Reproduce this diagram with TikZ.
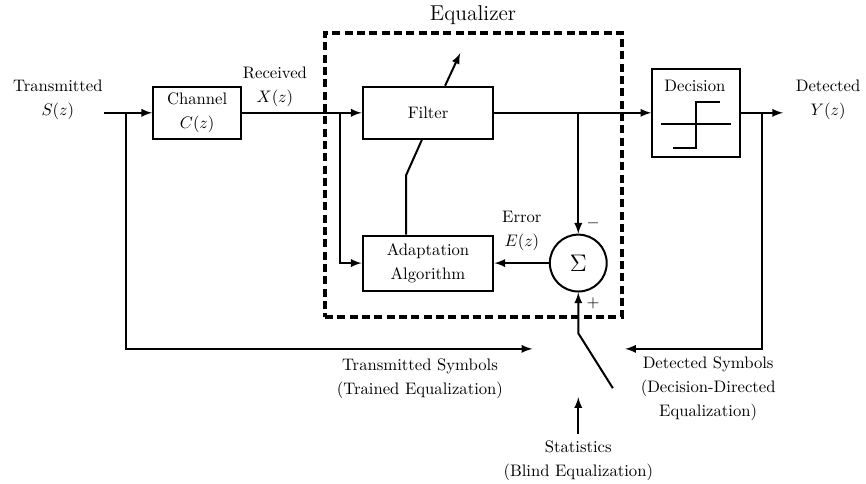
\documentclass[tikz,border=0pt]{standalone}
\usepackage{amsmath}

\tikzset{
  blk/.style={draw, line width=1.2pt, align=center, inner sep=2pt},
  lbl/.style={align=center, font=\fontsize{10}{14.4}\selectfont},
  eqbox/.style={draw, line width=2pt, dash pattern=on 4.8pt off 2.6pt},
}

\begin{document}
\begin{tikzpicture}[scale=1, >=latex, line width=1.2pt]
        \useasboundingbox (0,0) rectangle (18.27,-10.21);
        % ==== BLOCKS ====
        \node[blk, lbl, minimum width=1.86cm, minimum height=1.10cm] (channel) at (4.16,-2.38) {Channel\\$C(z)$};
        \node[blk, minimum width=2.76cm, minimum height=1.10cm] (filter) at (9.03,-2.38) {Filter};
        \node[blk, lbl, minimum width=2.76cm, minimum height=1.16cm] (adapt) at (9.03,-5.55) {Adaptation\\Algorithm};
        \node[draw, circle, line width=1.2pt, minimum size=1.2cm, inner sep=0pt] (sum) at (12.20,-5.55) {\Large $\Sigma$};
        \node[blk, minimum width=1.86cm, minimum height=1.86cm] (decision) at (14.69,-2.38) {};
        \node (dectext) at (14.66,-1.81) {Decision};
        \draw ([shift={(-0.74,-0.23)}]decision.center) -- ([shift={(0.74,-0.23)}]decision.center);
        \draw ([shift={(-0.49,-0.74)}]decision.center) -- ([shift={(0,-0.74)}]decision.center)
            -- ([shift={(0,0.23)}]decision.center) -- ([shift={(0.49,0.23)}]decision.center);

        % ==== EQUALIZER FRAME ====
        \node[eqbox, minimum width=6.27cm, minimum height=5.99cm] (eq) at (9.99,-3.69) {};
        \node (eqlabel) at (9.98,-0.32) {\fontsize{12.9}{15}\selectfont Equalizer};

        % ==== LABELS ====
        \node[lbl] (tx) at (1.22,-2.11) {Transmitted\\$S(z)$};
        \node[lbl] (rx) at (5.80,-1.84) {Received\\$X(z)$};
        \node[lbl] (det) at (17.47,-2.11) {Detected\\$Y(z)$};
        \node[lbl] (err) at (11.01,-4.88) {Error\\$E(z)$};
        \node (minus) at (12.51,-4.71) {$-$};
        \node (plus) at (12.51,-6.39) {$+$};
        \node[lbl] (tsymtext) at (8.86,-7.98) {Transmitted Symbols\\(Trained Equalization)};
        \node[lbl] (dsymtext) at (14.94,-8.21) {Detected Symbols\\(Decision-Directed\\Equalization)};
        \node[lbl] (stats) at (12.20,-9.71) {Statistics\\(Blind Equalization)};

        % ==== POINTS ====
        \coordinate (in) at (2.19,-2.38);
        \coordinate (j1) at (2.66,-2.38);
        \coordinate (j2) at (7.17,-2.38);
        \coordinate (j3) at (12.20,-2.38);
        \coordinate (j4) at (16.08,-2.38);
        \coordinate (out) at (16.52,-2.38);
        \coordinate (tsym) at (11.23,-7.36);
        \coordinate (dsym) at (13.19,-7.36);
        \coordinate (adj) at (9.71,-1.12);
        \coordinate (bend) at (8.57,-3.69);
        \coordinate (sw) at (12.20,-7.03);
        \coordinate (swend) at (12.93,-8.19);
        \coordinate (st) at (12.20,-8.38);

        % ==== SIGNAL PATH ====
        \draw[->] (in) -- (channel);
        \draw[->] (channel) -- (filter);
        \draw[->] (j2) |- (adapt.west);
        \draw[->] (filter) -- (decision);
        \draw[->] (j3) -- (sum.north);
        \draw[->] (sum) -- (adapt);
        \draw[->] (decision) -- (out);
        \draw[->] ([xshift=0.36cm]filter.north) -- (adj);
        \draw ([xshift=-0.13cm]filter.south) -- (bend) -- (bend |- adapt.north);

        % ==== TRAINING / DECISION FEEDBACK ====
        \draw[->] (j1) |- (tsym);
        \draw[->] (j4) |- (dsym);
        \draw[->] (swend) -- (sw) -- (sum.south);
        \draw[->] (stats.north) -- (st);
     \end{tikzpicture}
\end{document}
